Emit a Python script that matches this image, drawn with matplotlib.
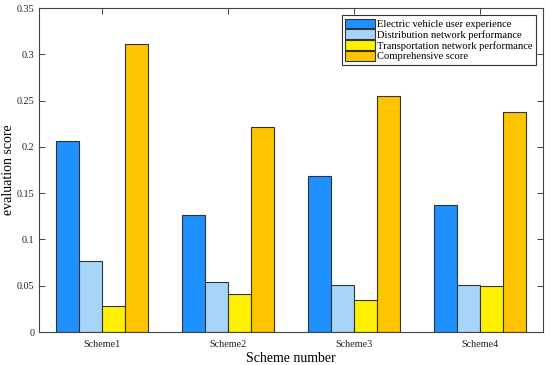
import matplotlib.pyplot as plt
import numpy as np

plt.rcParams['font.family'] = ['Liberation Serif', 'DejaVu Serif']

schemes = ['Scheme1', 'Scheme2', 'Scheme3', 'Scheme4']
ev_user = [0.206, 0.126, 0.169, 0.137]
dist_net = [0.077, 0.054, 0.051, 0.051]
trans_net = [0.028, 0.041, 0.035, 0.050]
comp_score = [0.311, 0.221, 0.255, 0.238]

labels = ['Electric vehicle user experience', 'Distribution network performance',
          'Transportation network performance', 'Comprehensive score']
colors = ['#1E90FF', '#A6D5F7', '#FFF000', '#FFC400']
series = [ev_user, dist_net, trans_net, comp_score]

fig = plt.figure(figsize=(5.5, 3.65), dpi=100)
ax = fig.add_axes([39/550, 1 - 332/365, 504/550, 324/365])

x = np.arange(1, len(schemes) + 1)
w = 0.182
for i, (vals, c, lab) in enumerate(zip(series, colors, labels)):
    ax.bar(x + (i - 1.5) * w, vals, w, color=c, edgecolor='#333333', linewidth=0.8, label=lab)

ax.set_xlim(0.5, 4.5)
ax.set_ylim(0, 0.35)
ax.set_xticks(x)
ax.set_xticklabels(schemes)
ax.set_yticks(np.arange(0, 0.351, 0.05))
ax.set_yticklabels(['0', '0.05', '0.1', '0.15', '0.2', '0.25', '0.3', '0.35'])
ax.tick_params(direction='in', top=True, right=True, labelsize=7.3, length=4, width=0.6,
               colors='#222222')
ax.tick_params(axis='y', pad=3.5)
ax.tick_params(axis='x', pad=6)
for s in ax.spines.values():
    s.set_color('#444444')
    s.set_linewidth(0.8)
ax.set_xlabel('Scheme number', fontsize=10, labelpad=2)
ax.set_ylabel('evaluation score', fontsize=10)
ax.yaxis.set_label_coords(-0.047, 0.5)

leg = ax.legend(loc='upper right', fontsize=7.6, fancybox=False, framealpha=1,
                edgecolor='#333333', handlelength=2.8, handleheight=1.0,
                labelspacing=0.05, borderpad=0.3, handletextpad=0.2,
                borderaxespad=0.7)
leg.get_frame().set_linewidth(0.8)

fig.savefig('out.png', dpi=100)
